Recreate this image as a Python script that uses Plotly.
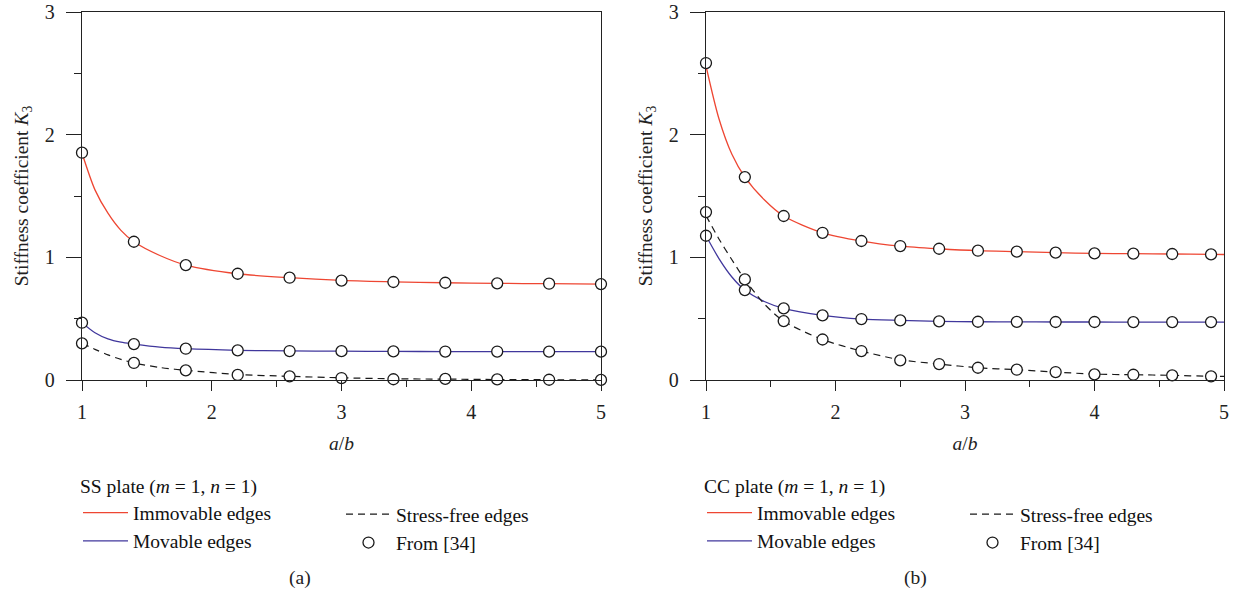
import plotly.graph_objects as go

# ---------------- data ----------------
# (a) SS plate -- reference points "From [34]"
ss_x = [1.0, 1.4, 1.8, 2.2, 2.6, 3.0, 3.4, 3.8, 4.2, 4.6, 5.0]
ss_immovable = [1.853, 1.127, 0.937, 0.866, 0.834, 0.810, 0.799, 0.793, 0.788, 0.785, 0.782]
ss_movable = [0.467, 0.293, 0.255, 0.242, 0.236, 0.235, 0.233, 0.232, 0.232, 0.231, 0.231]
ss_stressfree = [0.299, 0.139, 0.079, 0.041, 0.030, 0.016, 0.006, 0.009, 0.005, 0.002, 0.001]

# (a) SS plate -- present curves
ss_curve_x = [1.0, 1.1, 1.2, 1.3, 1.4, 1.6, 1.8, 2.2, 2.6, 3.0, 3.4, 3.8, 4.2, 4.6, 5.0]
ss_curve_immovable = [1.85, 1.55, 1.36, 1.22, 1.127, 1.015, 0.937, 0.866, 0.834, 0.812, 0.800, 0.793, 0.788, 0.785, 0.782]
ss_curve_movable = [0.467, 0.385, 0.335, 0.308, 0.293, 0.268, 0.255, 0.242, 0.237, 0.235, 0.233, 0.232, 0.232, 0.231, 0.231]
ss_curve_stressfree = [0.299, 0.25, 0.205, 0.168, 0.139, 0.102, 0.079, 0.045, 0.030, 0.018, 0.010, 0.007, 0.004, 0.002, 0.001]

# (b) CC plate -- reference points "From [34]"
cc_x = [1.0, 1.3, 1.6, 1.9, 2.2, 2.5, 2.8, 3.1, 3.4, 3.7, 4.0, 4.3, 4.6, 4.9]
cc_immovable = [2.584, 1.654, 1.337, 1.200, 1.133, 1.092, 1.070, 1.054, 1.046, 1.038, 1.032, 1.030, 1.027, 1.024]
cc_movable = [1.176, 0.733, 0.584, 0.527, 0.497, 0.486, 0.478, 0.475, 0.474, 0.473, 0.473, 0.472, 0.472, 0.472]
cc_stressfree = [1.369, 0.820, 0.480, 0.330, 0.236, 0.160, 0.130, 0.100, 0.084, 0.065, 0.046, 0.043, 0.038, 0.030]

# (b) CC plate -- present curves
cc_curve_x = [1.0, 1.1, 1.2, 1.3, 1.45, 1.6, 1.9, 2.2, 2.5, 2.8, 3.1, 3.4, 3.7, 4.0, 4.3, 4.6, 4.9, 5.0]
cc_curve_immovable = [2.56, 2.13, 1.84, 1.654, 1.47, 1.337, 1.200, 1.133, 1.092, 1.070, 1.054, 1.046, 1.038, 1.032, 1.030, 1.027, 1.024, 1.023]
cc_curve_movable = [1.176, 0.99, 0.84, 0.733, 0.64, 0.584, 0.527, 0.497, 0.486, 0.478, 0.475, 0.474, 0.473, 0.473, 0.472, 0.472, 0.472, 0.472]
cc_curve_stressfree = [1.34, 1.15, 0.98, 0.820, 0.62, 0.480, 0.330, 0.236, 0.165, 0.130, 0.100, 0.084, 0.065, 0.048, 0.043, 0.038, 0.030, 0.029]

x_ticks = [1, 2, 3, 4, 5]
y_ticks = [0, 1, 2, 3]

RED = "#ee4632"
BLUE = "#40379c"
BLACK = "#1a1a1a"
FONT = "Liberation Serif"

W, H = 1234, 599

def px(v):
    return v / W

def py(v):
    return 1 - v / H

fig = go.Figure()

def add_panel(cx, ci, cm, cs, xs, imm, mov, sf, xa, ya, leg1, leg2):
    fig.add_trace(go.Scatter(x=cx, y=ci, mode="lines", name="Immovable edges",
                             line=dict(color=RED, width=1.3, shape="spline", smoothing=0.8),
                             xaxis=xa, yaxis=ya, legend=leg1, legendgroup=leg1 + "a",
                             cliponaxis=False))
    fig.add_trace(go.Scatter(x=cx, y=cm, mode="lines", name="Movable edges",
                             line=dict(color=BLUE, width=1.3, shape="spline", smoothing=0.8),
                             xaxis=xa, yaxis=ya, legend=leg1, legendgroup=leg1 + "b",
                             cliponaxis=False))
    fig.add_trace(go.Scatter(x=cx, y=cs, mode="lines", name="Stress-free edges",
                             line=dict(color=BLACK, width=1.2, dash="7px,5px", shape="spline", smoothing=0.8),
                             xaxis=xa, yaxis=ya, legend=leg2, legendgroup=leg2 + "a",
                             cliponaxis=False))
    fig.add_trace(go.Scatter(x=list(xs) * 3, y=list(imm) + list(mov) + list(sf), mode="markers",
                             name="From [34]",
                             marker=dict(symbol="circle", size=11, color="white",
                                         line=dict(color=BLACK, width=1.3)),
                             xaxis=xa, yaxis=ya, legend=leg2, legendgroup=leg2 + "b",
                             cliponaxis=False))

add_panel(ss_curve_x, ss_curve_immovable, ss_curve_movable, ss_curve_stressfree,
          ss_x, ss_immovable, ss_movable, ss_stressfree, "x", "y", "legend", "legend2")
add_panel(cc_curve_x, cc_curve_immovable, cc_curve_movable, cc_curve_stressfree,
          cc_x, cc_immovable, cc_movable, cc_stressfree, "x2", "y2", "legend3", "legend4")

tick_font = dict(family=FONT, size=20, color="#222")
title_font = dict(family=FONT, size=19.5, color="#222")

def xaxis_cfg(domain, anchor):
    return dict(domain=domain, anchor=anchor, range=[1, 5], tickvals=x_ticks, ticks="outside",
                ticklen=10, tickwidth=1.3, tickcolor="#222", showgrid=False, zeroline=False,
                showline=True, mirror=True, linecolor="#222", linewidth=1.3,
                tickfont=tick_font, automargin=False, ticklabelstandoff=4,
                minor=dict(ticks="outside", ticklen=6, tickwidth=1.3, tickcolor="#222",
                           tickvals=[1.5, 2.5, 3.5, 4.5], showgrid=False),
                title=dict(text="<i>a</i>/<i>b</i>", font=title_font, standoff=14))

def yaxis_cfg(domain, anchor):
    return dict(domain=domain, anchor=anchor, range=[0, 3], tickvals=y_ticks, ticks="outside",
                ticklen=15, tickwidth=1.3, tickcolor="#222", showgrid=False, zeroline=False,
                showline=True, mirror=True, linecolor="#222", linewidth=1.3,
                tickfont=tick_font, automargin=False, ticklabelstandoff=7,
                minor=dict(ticks="outside", ticklen=7, tickwidth=1.3, tickcolor="#222",
                           tickvals=[0.5, 1.5, 2.5], showgrid=False),
                title=dict(text="Stiffness coefficient <i>K</i><sub>3</sub>", font=title_font,
                           standoff=11))

ydom = [py(380), py(12)]
legend_font = dict(family=FONT, size=19.5, color="#111")

def legend_cfg(x, y, title=None):
    d = dict(x=x, y=y, xanchor="left", yanchor="top", orientation="v",
             bgcolor="rgba(0,0,0,0)", borderwidth=0, font=legend_font,
             tracegroupgap=0, itemwidth=45, traceorder="normal")
    if title:
        d["title"] = dict(text=title, font=legend_font, side="top")
    return d

fig.update_layout(
    width=W, height=H,
    margin=dict(l=0, r=0, t=0, b=0, autoexpand=False),
    paper_bgcolor="white", plot_bgcolor="white",
    xaxis=xaxis_cfg([px(82), px(601)], "y"),
    yaxis=yaxis_cfg(ydom, "x"),
    xaxis2=xaxis_cfg([px(706), px(1224)], "y2"),
    yaxis2=yaxis_cfg(ydom, "x2"),
    legend=legend_cfg(px(78), py(468), "SS plate (<i>m</i> = 1, <i>n</i> = 1)"),
    legend2=legend_cfg(px(341), py(495)),
    legend3=legend_cfg(px(702), py(468), "CC plate (<i>m</i> = 1, <i>n</i> = 1)"),
    legend4=legend_cfg(px(965), py(495)),
    showlegend=True,
    annotations=[
        dict(text="(a)", x=px(300), y=py(578), xref="paper", yref="paper",
             xanchor="center", yanchor="middle", showarrow=False, font=title_font),
        dict(text="(b)", x=px(915), y=py(578), xref="paper", yref="paper",
             xanchor="center", yanchor="middle", showarrow=False, font=title_font),
    ],
)

fig.write_html("out.html", config={"displayModeBar": False},
               post_script="document.body.style.margin='0';")
